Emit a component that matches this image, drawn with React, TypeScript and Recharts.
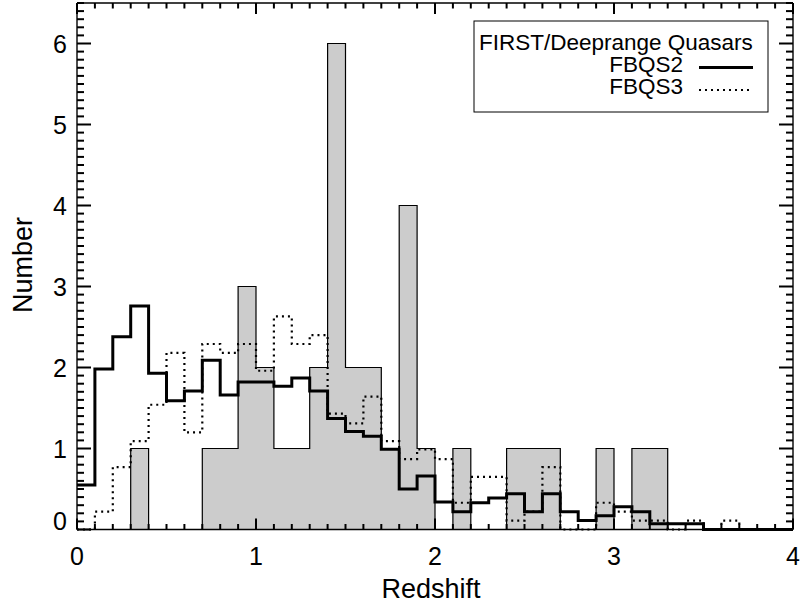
import {
  Area,
  ComposedChart,
  Customized,
  Line,
  XAxis,
  YAxis,
} from 'recharts';

// ===== Histogram counts per 0.1 redshift bin (0.0 .. 3.9) =====
const DEEPRANGE = [
  0, 0, 0, 1, 0, 0, 0, 1, 1, 3,
  2, 1, 1, 2, 6, 2, 2, 1, 4, 1,
  0, 1, 0, 0, 1, 1, 1, 0, 0, 1,
  0, 1, 1, 0, 0, 0, 0, 0, 0, 0,
];

const FBQS2 = [
  0.55, 1.98, 2.38, 2.76, 1.93, 1.59, 1.71, 2.09, 1.66, 1.82,
  1.82, 1.77, 1.87, 1.71, 1.37, 1.21, 1.15, 0.99, 0.5, 0.66,
  0.34, 0.22, 0.33, 0.39, 0.44, 0.22, 0.44, 0.22, 0.11, 0.17,
  0.28, 0.22, 0.07, 0.07, 0.07, 0, 0, 0, 0, 0,
];

const FBQS3 = [
  0, 0.22, 0.77, 1.09, 1.54, 2.18, 1.2, 2.29, 2.18, 2.29,
  1.96, 2.63, 2.29, 2.4, 1.43, 1.31, 1.64, 1.09, 0.87, 0.99,
  0.87, 0.33, 0.65, 0.65, 0.11, 0.22, 0.77, 0, 0, 0.33,
  0.22, 0.11, 0.11, 0, 0.11, 0, 0.11, 0, 0, 0,
];

const BIN_WIDTH = 0.1;
const X_MAJOR = [0, 1, 2, 3, 4];
const Y_MAJOR = [0, 1, 2, 3, 4, 5, 6];
const X_DOMAIN: [number, number] = [0, 4];
const Y_DOMAIN: [number, number] = [0, 6.5];

const FONT = '"Liberation Sans", Arial, Helvetica, sans-serif';
const GRAY = '#cccccc';
const TICK_STROKE = '#000000';

// step series need one extra point at the right edge of the last bin
const data = Array.from({ length: DEEPRANGE.length + 1 }, (_, i) => {
  const k = Math.min(i, DEEPRANGE.length - 1);
  return {
    z: +(i * BIN_WIDTH).toFixed(2),
    deep: DEEPRANGE[k],
    fbqs2: FBQS2[k],
    fbqs3: FBQS3[k],
  };
});

function minorTicks(lo: number, hi: number, step: number) {
  const out: number[] = [];
  const n = Math.round((hi - lo) / step);
  for (let i = 0; i <= n; i++) out.push(+(lo + i * step).toFixed(2));
  return out;
}

const X_TICKS = minorTicks(X_DOMAIN[0], X_DOMAIN[1], 0.1);
const Y_TICKS = minorTicks(Y_DOMAIN[0], Y_DOMAIN[1], 0.1);

const isMajor = (v: number, majors: number[]) => majors.some((m) => Math.abs(m - v) < 1e-6);

// ===== inward-pointing IDL style ticks =====
interface TickProps { x: number; y: number; payload: { value: number } }

function BottomTick({ x, y, payload }: TickProps) {
  const major = isMajor(payload.value, X_MAJOR);
  const len = major ? 11 : 5.5;
  return (
    <g>
      <path d={`M${x},${y}V${y - len}`} stroke={TICK_STROKE} strokeWidth={2} fill="none" />
      {major && (
        <text x={x} y={y + 35.5} textAnchor="middle" fontSize={25} fontFamily={FONT} fill="#000">
          {payload.value}
        </text>
      )}
    </g>
  );
}

function TopTick({ x, y, payload }: TickProps) {
  const len = isMajor(payload.value, X_MAJOR) ? 11 : 5.5;
  return <path d={`M${x},${y}V${y + len}`} stroke={TICK_STROKE} strokeWidth={2} fill="none" />;
}

function LeftTick({ x, y, payload }: TickProps) {
  const major = isMajor(payload.value, Y_MAJOR);
  const len = major ? 14 : 7;
  return (
    <g>
      <path d={`M${x},${y}H${x + len}`} stroke={TICK_STROKE} strokeWidth={2} fill="none" />
      {major && (
        <text
          x={x - 10}
          y={payload.value === 0 ? y : y + 9}
          textAnchor="end"
          fontSize={25}
          fontFamily={FONT}
          fill="#000"
        >
          {payload.value}
        </text>
      )}
    </g>
  );
}

function RightTick({ x, y, payload }: TickProps) {
  const len = isMajor(payload.value, Y_MAJOR) ? 14 : 7;
  return <path d={`M${x},${y}H${x - len}`} stroke={TICK_STROKE} strokeWidth={2} fill="none" />;
}

// ===== titles and legend box =====
function Decorations() {
  return (
    <g fontFamily={FONT} fill="#000">
      <text x={431} y={598} textAnchor="middle" fontSize={27}>Redshift</text>
      <text x={32} y={265} textAnchor="middle" fontSize={27} transform="rotate(-90 32 265)">
        Number
      </text>
      <rect x={474} y={21} width={294} height={91} fill="#fff" stroke="#000" strokeWidth={1} />
      <text x={479} y={50} fontSize={22.5}>FIRST/Deeprange Quasars</text>
      <text x={683} y={72} fontSize={22.5} textAnchor="end">FBQS2</text>
      <text x={683} y={94} fontSize={22.5} textAnchor="end">FBQS3</text>
      <line x1={699} y1={67.5} x2={753} y2={67.5} stroke="#000" strokeWidth={3} />
      <line x1={699} y1={90} x2={753} y2={90} stroke="#000" strokeWidth={2.2} strokeDasharray="2 4" />
    </g>
  );
}

const AXIS_LINE = { stroke: '#000', strokeWidth: 1.4 };

export default function App() {
  return (
    <div style={{ position: 'absolute', left: 0, top: 0, width: 804, height: 605, background: '#fff' }}>
      <ComposedChart width={804} height={605} data={data} margin={{ top: 0, right: 0, bottom: 0, left: 0 }}>
        <XAxis
          xAxisId="b"
          dataKey="z"
          type="number"
          domain={X_DOMAIN}
          ticks={X_TICKS}
          interval={0}
          height={75.5}
          tickSize={0}
          tickMargin={0}
          tickLine={false}
          axisLine={AXIS_LINE}
          tick={(p: TickProps) => <BottomTick {...p} />}
        />
        <XAxis
          xAxisId="t"
          dataKey="z"
          orientation="top"
          type="number"
          domain={X_DOMAIN}
          ticks={X_TICKS}
          interval={0}
          height={3}
          tickSize={0}
          tickMargin={0}
          tickLine={false}
          axisLine={AXIS_LINE}
          tick={(p: TickProps) => <TopTick {...p} />}
        />
        <YAxis
          yAxisId="l"
          type="number"
          domain={Y_DOMAIN}
          ticks={Y_TICKS}
          interval={0}
          width={77}
          tickSize={0}
          tickMargin={0}
          tickLine={false}
          axisLine={AXIS_LINE}
          tick={(p: TickProps) => <LeftTick {...p} />}
        />
        <YAxis
          yAxisId="r"
          orientation="right"
          type="number"
          domain={Y_DOMAIN}
          ticks={Y_TICKS}
          interval={0}
          width={11}
          tickSize={0}
          tickMargin={0}
          tickLine={false}
          axisLine={AXIS_LINE}
          tick={(p: TickProps) => <RightTick {...p} />}
        />
        {/* invisible series so the top/right frame axes get their scales */}
        <Line
          xAxisId="t"
          yAxisId="r"
          dataKey="deep"
          stroke="none"
          dot={false}
          activeDot={false}
          legendType="none"
          isAnimationActive={false}
        />
        <Area
          xAxisId="b"
          yAxisId="l"
          type="stepAfter"
          dataKey="deep"
          fill={GRAY}
          fillOpacity={1}
          stroke="#000"
          strokeWidth={1.2}
          dot={false}
          activeDot={false}
          isAnimationActive={false}
        />
        <Line
          xAxisId="b"
          yAxisId="l"
          type="stepAfter"
          dataKey="fbqs3"
          stroke="#000"
          strokeWidth={2.2}
          strokeDasharray="2 4"
          dot={false}
          activeDot={false}
          isAnimationActive={false}
        />
        <Line
          xAxisId="b"
          yAxisId="l"
          type="stepAfter"
          dataKey="fbqs2"
          stroke="#000"
          strokeWidth={3}
          dot={false}
          activeDot={false}
          isAnimationActive={false}
        />
        <Customized component={Decorations} />
      </ComposedChart>
    </div>
  );
}
